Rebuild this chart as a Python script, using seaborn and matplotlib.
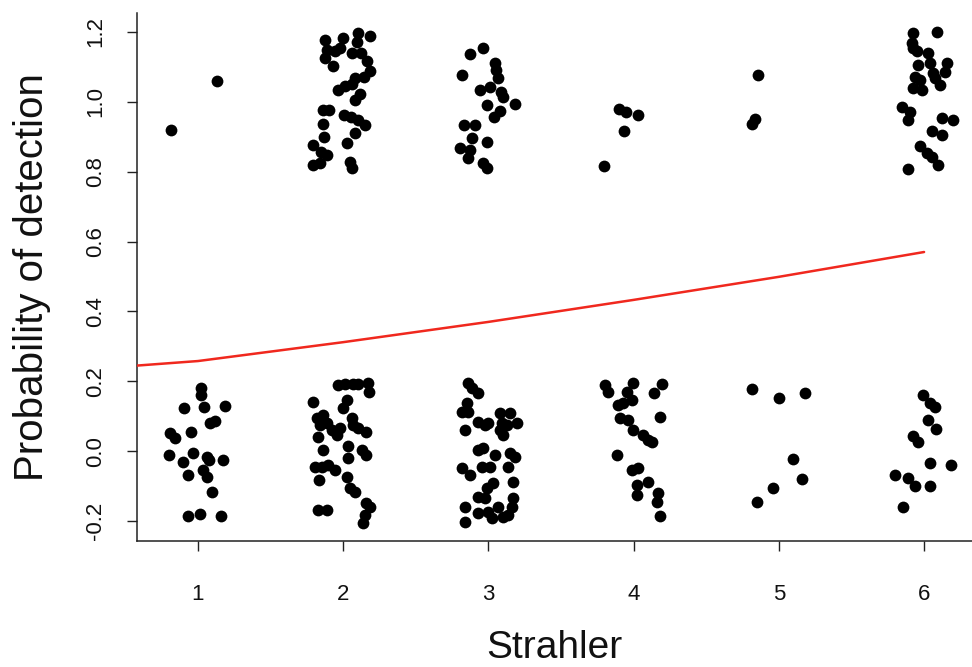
import matplotlib
matplotlib.use("Agg")
import matplotlib.pyplot as plt
import pandas as pd
import seaborn as sns

# Jittered Strahler order (x) and jittered detection outcome (y), one pair of lists per order
s1_x = [1.019, 1.019, 0.906, 1.041, 1.186, 1.083, 1.117, 0.807, 0.842, 0.950, 0.800, 0.899,
        0.963, 1.060, 1.078, 1.174, 0.933, 1.037, 1.060, 1.094, 0.929, 1.014, 1.156,
        0.814, 1.131]
s1_y = [0.180, 0.161, 0.124, 0.127, 0.129, 0.081, 0.087, 0.053, 0.037, 0.056, -0.011, -0.030,
        -0.006, -0.018, -0.025, -0.025, -0.068, -0.054, -0.075, -0.116, -0.185, -0.181, -0.185,
        0.919, 1.060]

s2_x = [1.875, 2.002, 2.101, 2.185, 2.095, 1.887, 1.944, 1.978, 2.059, 2.121, 1.875, 1.932,
        2.166, 2.185, 2.143, 2.081, 2.059, 2.013, 1.967, 2.116, 2.081, 1.863, 1.904, 2.006,
        2.052, 1.863, 2.104, 2.150, 2.081, 1.870, 2.028, 1.794, 1.845, 1.891, 1.794, 1.840,
        2.047, 2.063,
        1.966, 2.012, 2.070, 2.104, 2.173, 2.180, 1.794, 2.024, 2.001, 1.817, 1.863, 1.840,
        1.886, 1.829, 1.921, 1.955, 1.978, 2.059, 2.070, 2.104, 2.157, 1.863, 2.035, 2.035,
        2.127, 2.157, 1.806, 1.852, 1.897, 1.944, 1.835, 2.024, 2.047, 2.081, 1.829, 1.886,
        2.157, 2.185, 2.150, 2.134]
s2_y = [1.177, 1.182, 1.198, 1.189, 1.172, 1.148, 1.144, 1.153, 1.139, 1.139, 1.125, 1.101,
        1.116, 1.087, 1.070, 1.067, 1.051, 1.046, 1.034, 1.022, 1.005, 0.977, 0.977, 0.962,
        0.957, 0.937, 0.948, 0.934, 0.910, 0.900, 0.881, 0.877, 0.855, 0.848, 0.819, 0.824,
        0.828, 0.809,
        0.189, 0.192, 0.192, 0.192, 0.194, 0.170, 0.142, 0.146, 0.123, 0.094, 0.103, 0.075,
        0.080, 0.041, 0.061, 0.046, 0.065, 0.094, 0.075, 0.065, 0.056, 0.003, 0.015, -0.020,
        0.003, -0.011, -0.045, -0.045, -0.040, -0.054, -0.083, -0.073, -0.106, -0.116, -0.169,
        -0.169, -0.149, -0.159, -0.183, -0.205]

s3_x = [2.873, 2.965, 2.816, 3.045, 3.052, 3.064, 2.942, 3.011, 3.087, 3.103, 2.988, 3.080,
        3.041, 3.183, 2.834, 2.908, 2.889, 2.988, 2.804, 2.873, 2.862, 2.965, 2.988,
        2.862, 2.885, 2.931, 2.851, 2.820, 2.862, 3.080, 3.149, 2.839, 2.931, 2.977, 2.999,
        3.092, 3.126, 3.195, 3.103, 3.080, 2.931, 2.965, 3.045, 3.149, 3.183, 3.137, 2.816,
        2.873, 2.954, 3.011, 3.034, 2.988, 3.172, 2.931, 2.977, 3.172, 3.160, 2.839, 2.931,
        2.999, 3.068, 3.023, 3.103, 3.137, 2.839]
s3_y = [1.136, 1.153, 1.077, 1.110, 1.091, 1.069, 1.034, 1.043, 1.029, 1.015, 0.991, 0.974,
        0.957, 0.994, 0.934, 0.934, 0.896, 0.886, 0.867, 0.862, 0.838, 0.824, 0.810,
        0.194, 0.180, 0.166, 0.137, 0.113, 0.113, 0.108, 0.108, 0.061, 0.084, 0.075, 0.080,
        0.080, 0.075, 0.080, 0.046, 0.061, 0.003, 0.008, -0.011, -0.006, -0.016, -0.045, -0.049,
        -0.068, -0.045, -0.045, -0.092, -0.106, -0.087, -0.130, -0.135, -0.135, -0.159, -0.159,
        -0.178, -0.173, -0.159, -0.192, -0.188, -0.183, -0.202]

s4_x = [3.899, 3.946, 4.028, 3.936, 3.798,
        3.803, 3.826, 3.998, 3.952, 3.987, 4.194, 4.140, 3.895, 3.929, 4.182, 3.906, 3.964,
        3.998, 4.067, 4.101, 4.125, 3.884, 3.987, 4.032, 4.021, 4.101, 4.021, 4.170, 4.163,
        4.182]
s4_y = [0.979, 0.970, 0.962, 0.915, 0.817,
        0.189, 0.170, 0.194, 0.170, 0.146, 0.192, 0.166, 0.132, 0.137, 0.099, 0.094, 0.089,
        0.061, 0.046, 0.032, 0.027, -0.011, -0.054, -0.049, -0.097, -0.087, -0.126, -0.121,
        -0.145, -0.186]

s5_x = [4.859, 4.836, 4.813,
        4.813, 5.001, 5.180, 5.096, 5.162, 4.962, 4.852]
s5_y = [1.077, 0.951, 0.937,
        0.177, 0.151, 0.167, -0.023, -0.081, -0.106, -0.146]

s6_x = [5.926, 6.087, 5.915, 5.926, 5.950, 6.030, 5.961, 6.041, 6.156, 6.144, 5.938, 5.972,
        6.064, 6.076, 6.110, 5.926, 5.984, 5.846, 5.904, 5.892, 6.122, 6.198, 6.053, 6.122,
        5.972, 6.019, 6.053, 6.098, 5.892,
        5.991, 6.041, 6.076, 6.030, 6.083, 5.922, 5.961, 6.041, 6.184, 5.800, 5.892, 5.938,
        6.041, 5.853]
s6_y = [1.196, 1.199, 1.168, 1.153, 1.144, 1.139, 1.105, 1.110, 1.110, 1.086, 1.072, 1.063,
        1.082, 1.067, 1.048, 1.039, 1.034, 0.986, 0.972, 0.948, 0.953, 0.948, 0.915, 0.905,
        0.872, 0.853, 0.843, 0.819, 0.807,
        0.161, 0.137, 0.127, 0.089, 0.063, 0.043, 0.027, -0.033, -0.040, -0.068, -0.078, -0.100,
        -0.100, -0.159]

# Fitted detection probability along Strahler order
fit_x = [0.58, 1, 2, 3, 4, 5, 6]
fit_p = [0.245, 0.258, 0.312, 0.370, 0.433, 0.499, 0.570]

y_ticks = [-0.2, 0.0, 0.2, 0.4, 0.6, 0.8, 1.0, 1.2]
x_ticks = [1, 2, 3, 4, 5, 6]

points = pd.DataFrame({
    "Strahler": s1_x + s2_x + s3_x + s4_x + s5_x + s6_x,
    "Detection": s1_y + s2_y + s3_y + s4_y + s5_y + s6_y,
})
fit = pd.DataFrame({"Strahler": fit_x, "Probability": fit_p})

sns.set_style("white")
plt.rcParams["font.family"] = ["Liberation Sans", "DejaVu Sans"]

fig = plt.figure(figsize=(9.72, 6.67), dpi=100)
ax = fig.add_axes([137 / 972, 126 / 667, 835 / 972, 528 / 667])

sns.scatterplot(data=points, x="Strahler", y="Detection", ax=ax,
                color="black", s=72, linewidth=0, zorder=3)
sns.lineplot(data=fit, x="Strahler", y="Probability", ax=ax,
             color="#f0281e", linewidth=1.8, zorder=4)

ax.set_xlim(0.58, 6.33)
ax.set_ylim(-0.257, 1.254)

ax.set_xticks(x_ticks)
ax.set_xticklabels([str(t) for t in x_ticks], fontsize=16)
ax.set_yticks(y_ticks)
ax.set_yticklabels([f"{t:.1f}" for t in y_ticks], fontsize=16, rotation=90, va="center")

ax.tick_params(axis="both", direction="out", length=7, width=1.0, color="#222222",
               labelcolor="#111111", bottom=True, left=True)
ax.tick_params(axis="x", pad=24)
ax.tick_params(axis="y", pad=15)

for side in ["top", "right"]:
    ax.spines[side].set_visible(False)
for side in ["left", "bottom"]:
    ax.spines[side].set_color("#222222")
    ax.spines[side].set_linewidth(1.1)

ax.set_xlabel("Strahler", fontsize=28, color="#111111", labelpad=18)
ax.set_ylabel("Probability of detection", fontsize=29, color="#111111", labelpad=25)

fig.savefig("out.png", dpi=100)
